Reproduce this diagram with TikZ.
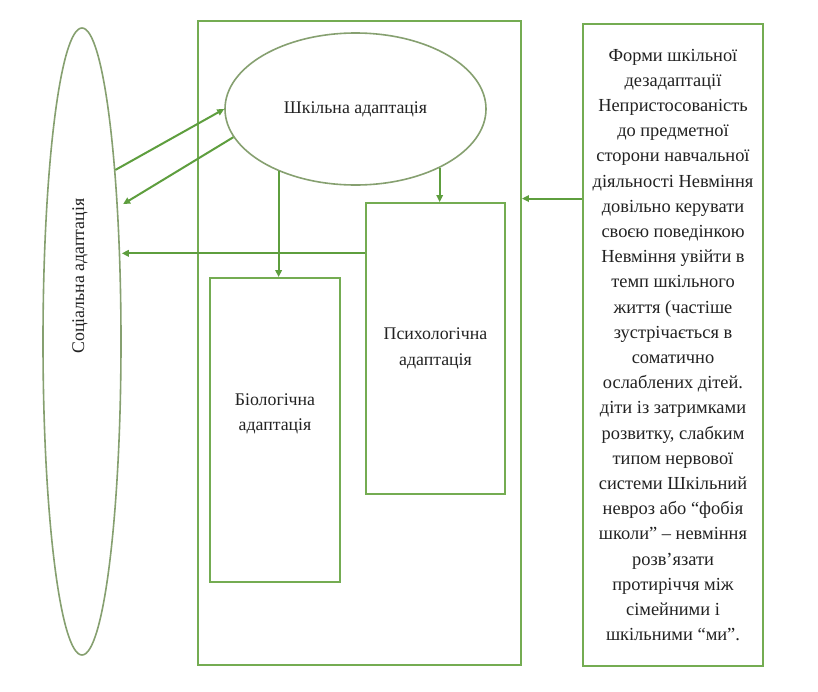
\documentclass[tikz,border=0pt]{standalone}
\usepackage{fontspec}
\setmainfont{Liberation Serif}
\usetikzlibrary{shapes.geometric,arrows.meta,calc}
\definecolor{boxgreen}{HTML}{74AC52}
\definecolor{ellgreen}{HTML}{86A070}
\definecolor{arrgreen}{HTML}{5E9E3E}
\definecolor{txt}{HTML}{222222}
\begin{document}
\begin{tikzpicture}[x=1pt,y=-1pt,
  box/.style={draw=boxgreen,line width=1.9pt,rectangle,inner sep=0pt,align=center,text=txt},
  ell/.style={draw=ellgreen,line width=1.6pt,ellipse,inner sep=0pt,align=center,text=txt},
  arr/.style={draw=arrgreen,line width=2pt,-{Triangle[length=7pt,width=6.5pt]}},
  lbl/.style={font=\fontsize{17.8}{25.5}\selectfont}]
\useasboundingbox (0,0) rectangle (818,691);
\fill[white] (0,0) rectangle (818,691);
% main rectangle
\node[box,minimum width=323pt,minimum height=644pt] (main) at (359.5,343) {};
% social ellipse
\node[ell,minimum width=78pt,minimum height=627pt] (soc) at (82,341.5) {};
\node[lbl,rotate=90,text=txt] (soclab) at (80,276) {Соціальна адаптація};
% school adaptation ellipse
\node[ell,lbl,minimum width=261pt,minimum height=152pt] (shk) at (355.5,109) {Шкільна адаптація};
% biological
\node[box,lbl,minimum width=130pt,minimum height=304pt] (bio) at (275,430) {Біологічна\\адаптація\\[10pt]};
% psychological
\node[box,lbl,minimum width=139pt,minimum height=291pt] (psy) at (435.5,348.5) {Психологічна\\адаптація};
% forms of maladaptation
\node[box,minimum width=180pt,minimum height=642pt,font=\fontsize{18.4}{25.2}\selectfont] (frm) at (673,345) {Форми шкільної\\
дезадаптації\\
Непристосованість\\
до предметної\\
сторони навчальної\\
діяльності Невміння\\
довільно керувати\\
своєю поведінкою\\
Невміння увійти в\\
темп шкільного\\
життя (частіше\\
зустрічається в\\
соматично\\
ослаблених дітей.\\
діти із затримками\\
розвитку, слабким\\
типом нервової\\
системи Шкільний\\
невроз або “фобія\\
школи” – невміння\\
розв’язати\\
протиріччя між\\
сімейними і\\
шкільними “ми”.};
% connectors
\draw[arr] (soc.79) -- (shk.west);
\draw[arr,shorten >=6pt] (shk.193) -- (soc.75);
\draw[arr] (shk.219) -- (shk.219 |- bio.north);
\draw[arr] (shk.325) -- (shk.325 |- psy.north);
\coordinate (pl) at ($(psy.north west)!0.175!(psy.south west)$);
\draw[arr] (pl) -- (soc.east |- pl);
\coordinate (fl) at ($(frm.north west)!0.2726!(frm.south west)$);
\draw[arr] (fl) -- (main.east |- fl);
\end{tikzpicture}
\end{document}
